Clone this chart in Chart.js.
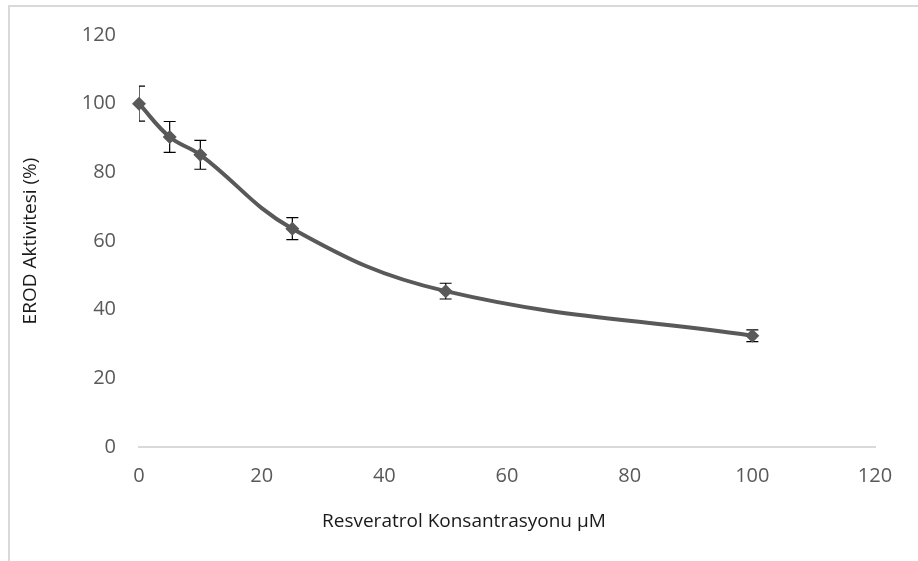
<!DOCTYPE html>
<html>
<head>
<meta charset="utf-8">
<script src="https://cdn.jsdelivr.net/npm/chart.js@4.4.1/dist/chart.umd.min.js"></script>
<style>
  html, body { margin: 0; padding: 0; background: #ffffff; }
  #wrap { position: relative; width: 918px; height: 561px; }
  canvas { display: block; }
</style>
</head>
<body>
<div id="wrap"><canvas id="c" width="918" height="561"></canvas></div>
<script>
// Resveratrol concentration (µM) and EROD activity (%) with error margins
const concentrations = [0, 5, 10, 25, 50, 100];
const erodActivity = [100, 90.3, 85.1, 63.6, 45.4, 32.4];
const errorMargin = [5.1, 4.5, 4.2, 3.2, 2.3, 1.7];
const xTicks = [0, 20, 40, 60, 80, 100, 120];
const yTicks = [0, 20, 40, 60, 80, 100, 120];
const xTitle = 'Resveratrol Konsantrasyonu µM';
const yTitle = 'EROD Aktivitesi (%)';

const points = concentrations.map((x, i) => ({ x: x, y: erodActivity[i] }));
const FONT = "'Open Sans', sans-serif";

// light frame around the whole chart (top and left edges visible)
const framePlugin = {
  id: 'frame',
  beforeDraw(chart) {
    const ctx = chart.ctx;
    ctx.save();
    ctx.strokeStyle = '#d9d9d9';
    ctx.lineWidth = 2;
    ctx.beginPath();
    ctx.moveTo(9, 561);
    ctx.lineTo(9, 6);
    ctx.lineTo(918, 6);
    ctx.stroke();
    ctx.restore();
  }
};

// horizontal axis title, placed below the tick labels
const xTitlePlugin = {
  id: 'xTitle',
  afterDraw(chart) {
    const ctx = chart.ctx;
    ctx.save();
    ctx.font = '19px ' + FONT;
    ctx.fillStyle = '#1a1a1a';
    ctx.textAlign = 'left';
    ctx.textBaseline = 'middle';
    ctx.fillText(xTitle, 322, 522);
    ctx.restore();
  }
};

// vertical error bars with caps, clipped to the plot area
const errorBarPlugin = {
  id: 'errorBars',
  beforeDatasetsDraw(chart) {
    const ctx = chart.ctx;
    const xs = chart.scales.x, ys = chart.scales.y;
    const area = chart.chartArea;
    ctx.save();
    ctx.beginPath();
    ctx.rect(area.left, area.top, area.right - area.left, area.bottom - area.top);
    ctx.clip();
    ctx.strokeStyle = '#000000';
    ctx.lineWidth = 1.2;
    const cap = 6;
    concentrations.forEach((c, i) => {
      const px = xs.getPixelForValue(c);
      const top = ys.getPixelForValue(erodActivity[i] + errorMargin[i]);
      const bot = ys.getPixelForValue(erodActivity[i] - errorMargin[i]);
      ctx.beginPath();
      ctx.moveTo(px, top); ctx.lineTo(px, bot);
      ctx.moveTo(px - cap, top); ctx.lineTo(px + cap, top);
      ctx.moveTo(px - cap, bot); ctx.lineTo(px + cap, bot);
      ctx.stroke();
    });
    ctx.restore();
  }
};

const tickFont = { family: FONT, size: 20 };
const titleFont = { family: FONT, size: 19 };

new Chart(document.getElementById('c'), {
  type: 'scatter',
  data: {
    datasets: [{
      data: points,
      showLine: true,
      tension: 0.4,
      borderColor: '#595959',
      borderWidth: 4,
      backgroundColor: '#595959',
      pointStyle: 'rectRot',
      pointRadius: 7,
      pointBorderWidth: 0,
      clip: false
    }]
  },
  options: {
    responsive: false,
    animation: false,
    events: [],
    layout: { padding: { left: 0, top: 35, right: 43, bottom: 0 } },
    plugins: { legend: { display: false }, tooltip: { enabled: false } },
    scales: {
      x: {
        type: 'linear',
        min: 0, max: 120,
        afterBuildTicks(scale) { scale.ticks = xTicks.map(v => ({ value: v })); },
        afterFit(scale) { scale.height = 114; },
        grid: { display: false, drawTicks: false },
        border: { display: true, color: '#d9d9d9', width: 2 },
        ticks: { font: tickFont, color: '#595959', padding: 17, maxRotation: 0 },
        title: { display: false }
      },
      y: {
        type: 'linear',
        min: 0, max: 120,
        afterBuildTicks(scale) { scale.ticks = yTicks.map(v => ({ value: v })); },
        afterFit(scale) { scale.width = 139; },
        grid: { display: false, drawTicks: false },
        border: { display: false },
        ticks: { font: tickFont, color: '#595959', padding: 23 },
        title: {
          display: true,
          text: yTitle,
          font: titleFont,
          color: '#1a1a1a',
          padding: { top: 19, bottom: 0 }
        }
      }
    }
  },
  plugins: [framePlugin, errorBarPlugin, xTitlePlugin]
});
</script>
</body>
</html>
